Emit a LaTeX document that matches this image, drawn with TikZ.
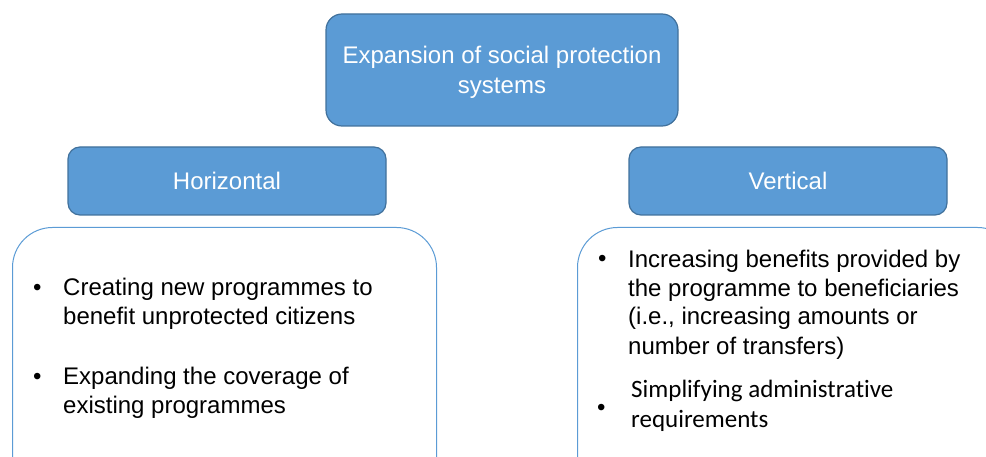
\documentclass[tikz,border=0pt]{standalone}
\usepackage{fontspec}
\setmainfont{Liberation Sans}
\newfontfamily\calibrifont[Ligatures=NoCommon]{Carlito}
\usetikzlibrary{positioning}
\definecolor{boxblue}{HTML}{5B9BD5}
\definecolor{boxedge}{HTML}{41719C}

\begin{document}
\begin{tikzpicture}[x=1pt,y=-1pt,
    headbox/.style={draw=boxedge, fill=boxblue, line width=1.2pt, rounded corners=12pt,
        text=white, align=center, font=\fontsize{24}{29.5}\selectfont},
    listbox/.style={draw=boxblue, line width=1pt, rounded corners=40pt, anchor=north west},
    itemtext/.style={anchor=base west, align=left, inner sep=0pt, font=\fontsize{24}{29}\selectfont},
    dot/.style={anchor=base west, inner sep=0pt, font=\fontsize{24}{29}\selectfont}]
    \path[use as bounding box, clip] (0,0) rectangle (986,457);

    % headers
    \node[headbox, rounded corners=16pt, minimum width=352pt, minimum height=112pt, text depth=0pt] (expansion) at (502,70) {Expansion of social protection\\systems};
    \node[headbox, minimum width=318pt, minimum height=68pt] (horizontal) at (227,181) {Horizontal};
    \node[headbox, minimum width=318pt, minimum height=68pt] (vertical) at (788,181) {Vertical};

    % lists (baseline = last line)
    \node[listbox, minimum width=424pt, minimum height=270pt] (horizlist) at (12,227) {};
    \node[listbox, minimum width=440pt, minimum height=270pt] (vertlist) at (577,227) {};

    \node[dot] (hdot1) at (33,295) {•};
    \node[itemtext] (hitem1) at (63,324) {Creating new programmes to\\benefit unprotected citizens};
    \node[dot] (hdot2) at (33,384) {•};
    \node[itemtext] (hitem2) at (63,413) {Expanding the coverage of\\existing programmes};

    \node[dot] (vdot1) at (598,267) {•};
    \node[itemtext] (vitem1) at (628,354) {Increasing benefits provided by\\the programme to beneficiaries\\(i.e., increasing amounts or\\number of transfers)};
    \node[dot] (vdot2) at (597,415) {•};
    \node[itemtext, font=\calibrifont\fontsize{25}{30}\selectfont] (vitem2) at (631,427) {Simplifying administrative\\requirements};
\end{tikzpicture}
\end{document}
